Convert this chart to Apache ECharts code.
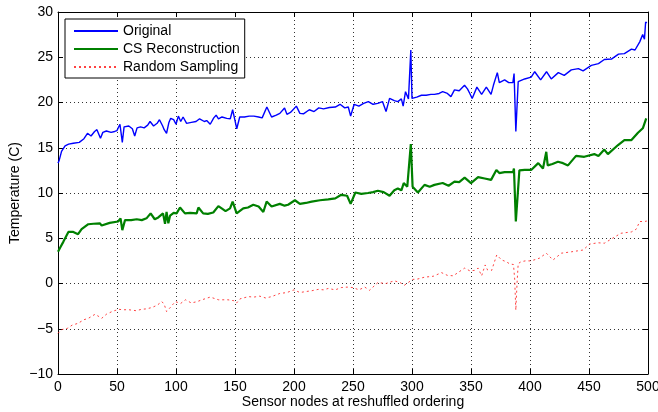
<!DOCTYPE html>
<html>
<head>
<meta charset="utf-8">
<title>Temperature by sensor node</title>
<script src="https://cdn.jsdelivr.net/npm/echarts@6/dist/echarts.min.js"></script>
<style>
  html, body { margin: 0; padding: 0; background: #fff; }
  #chart { width: 658px; height: 412px; }
</style>
</head>
<body>
<div id="chart"></div>
<script>
// values
var origNodes = [0, 1, 3, 6, 9, 13, 18, 22, 25, 28, 31, 33, 36, 38, 41, 45, 48, 50, 52.5, 54.5, 56, 60, 63, 65, 67, 70, 73, 76, 78, 81, 84, 86, 88.7, 90, 92, 94, 95.5, 98, 100, 102, 104, 106, 109, 113, 117, 120, 124, 126, 129, 132, 134, 136, 139, 143, 146, 148, 150, 151.5, 154, 158, 162, 166, 170, 173, 177, 181, 185, 188, 192, 194, 197, 202, 205, 208, 213, 217, 221, 225, 230, 235, 239, 243, 246, 248, 251, 255, 259, 263, 267, 271, 275, 278, 281, 285, 288, 291, 292.5, 294.5, 297, 299, 300, 304, 308, 312, 316, 319, 323, 326, 330, 333, 336, 340, 344.5, 347, 349, 351, 355, 359, 363, 367, 369, 372.3, 374, 378.5, 382, 385.5, 386.5, 388, 390, 395.5, 401, 404, 409, 414, 418, 424, 429, 435, 441, 445, 452, 458, 463, 469, 475, 480, 486, 489, 493, 495.5, 497, 498, 499];
var origTemp = [13.3, 13.6, 14.6, 15.2, 15.4, 15.5, 15.6, 16.0, 16.6, 16.3, 16.8, 17.0, 16.05, 16.7, 16.85, 16.7, 16.8, 16.9, 17.6, 15.6, 17.3, 17.4, 17.1, 16.3, 17.2, 17.3, 17.2, 17.5, 17.9, 17.4, 17.7, 18.1, 17.4, 17.0, 16.6, 17.8, 18.25, 18.1, 17.6, 18.5, 17.9, 18.4, 17.7, 17.8, 17.9, 18.2, 17.9, 18.0, 17.6, 18.3, 18.6, 18.2, 18.4, 18.25, 18.2, 19.2, 18.0, 17.1, 18.4, 18.4, 18.5, 18.5, 18.4, 18.3, 19.5, 18.4, 18.6, 18.8, 19.4, 18.7, 18.9, 19.6, 18.8, 18.75, 19.2, 19.0, 19.4, 19.3, 19.45, 19.5, 19.8, 19.4, 19.5, 18.5, 19.8, 19.6, 19.9, 20.1, 19.8, 19.9, 20.1, 19.0, 20.45, 20.2, 20.1, 20.4, 19.6, 21.2, 20.4, 25.8, 20.45, 20.6, 20.8, 20.8, 20.9, 20.9, 21.0, 21.2, 21.0, 20.65, 21.4, 21.3, 21.9, 21.5, 21.0, 20.45, 21.7, 20.9, 21.7, 20.9, 21.9, 23.3, 22.2, 22.5, 22.2, 22.2, 23.2, 16.8, 22.3, 22.6, 22.8, 23.4, 22.5, 23.4, 22.6, 23.3, 23.0, 23.6, 23.75, 23.5, 24.1, 24.3, 24.75, 24.8, 25.35, 25.4, 25.9, 25.8, 26.7, 27.5, 27.0, 28.9, 28.8];

var csNodes = [0, 2, 4.5, 8.8, 13, 17, 20, 25.7, 30, 35.6, 37, 43.8, 51, 53, 54.5, 56.8, 62, 66.7, 71, 75, 78.5, 82, 85, 89, 90.7, 92, 93.5, 95, 98, 100.5, 103.4, 107.6, 112, 117.5, 119, 123, 127, 131.6, 135.9, 138.7, 142, 145.8, 148, 151.4, 157, 161, 165.5, 170, 174, 176.8, 181, 188, 192, 195, 200.8, 205, 210, 215, 222, 229, 235, 240, 245, 248, 252, 257, 262.7, 267, 271, 276, 281, 285, 288, 291, 293, 296, 299, 300.5, 305, 310.6, 315, 319, 326, 331, 336, 340, 344.6, 350, 356, 361.6, 367, 371.5, 374, 378.5, 385.6, 386.4, 388, 391, 395.5, 401, 407, 411, 413.8, 415, 419, 423.7, 428, 432.2, 439, 446, 454.5, 458, 463, 466, 474.6, 480, 486, 491.5, 495.6, 498.5];
var csTemp = [3.5, 4.0, 4.6, 5.7, 5.7, 5.45, 6.0, 6.55, 6.6, 6.65, 6.4, 6.7, 6.85, 7.2, 5.9, 7.0, 7.0, 7.1, 7.0, 7.2, 7.75, 7.1, 7.3, 7.75, 6.6, 7.9, 6.65, 7.5, 7.8, 7.75, 8.4, 7.75, 7.8, 7.75, 8.4, 7.75, 7.7, 7.85, 8.55, 8.3, 8.0, 8.3, 9.05, 7.75, 8.3, 8.4, 8.7, 8.5, 7.9, 9.05, 8.5, 8.8, 8.6, 8.7, 9.2, 8.8, 8.9, 9.05, 9.2, 9.3, 9.4, 9.8, 9.7, 8.8, 10.05, 9.9, 10.0, 10.1, 10.25, 10.1, 9.7, 10.3, 10.5, 10.3, 11.1, 10.7, 15.4, 10.7, 10.05, 10.9, 10.7, 10.9, 11.1, 10.8, 11.25, 11.2, 11.7, 11.1, 11.75, 11.6, 11.45, 12.55, 12.2, 12.3, 12.3, 12.7, 6.85, 12.5, 12.55, 12.55, 13.3, 12.7, 14.55, 13.05, 13.2, 13.45, 13.3, 13.05, 14.1, 14.0, 14.3, 14.1, 14.8, 14.3, 15.3, 15.85, 15.85, 16.65, 17.15, 18.25];

var rsNodes = [0, 3, 8, 12, 17, 22, 25.7, 31.4, 34, 37, 41, 45.8, 51.4, 55, 60, 66, 71, 75, 79.7, 84, 88, 90, 92, 95.5, 99.4, 104, 108, 113, 118, 122, 129, 136, 144, 149, 151.4, 154.2, 161.4, 166, 171, 176, 181, 188, 194, 200, 205, 209.5, 215, 220.5, 225, 229, 235, 240, 245, 250, 255, 260, 264, 271, 278, 285, 290, 293.5, 300.5, 305, 310.6, 318, 325, 330, 335, 340, 344.6, 349, 353, 356, 359, 362, 364, 367.5, 371.8, 376, 380, 383, 386, 387, 388, 389, 390, 392.4, 396, 401, 408, 413.8, 419.5, 426.6, 435, 440, 445, 450.5, 457.6, 463, 470, 477, 486, 490, 493, 497, 499];
var rsTemp = [-5.5, -5.1, -4.95, -4.6, -4.4, -4.0, -3.85, -3.4, -3.6, -3.85, -3.4, -3.1, -2.85, -2.9, -2.9, -3.0, -2.85, -2.8, -2.65, -2.4, -2.0, -2.3, -3.1, -2.6, -2.0, -2.2, -1.8, -2.15, -2.0, -1.8, -1.5, -1.8, -1.8, -1.9, -2.15, -1.7, -1.45, -1.5, -1.4, -1.6, -1.45, -1.1, -1.0, -0.7, -1.0, -0.9, -0.8, -0.65, -0.7, -0.55, -0.7, -0.45, -0.4, -0.45, -0.7, -0.4, -0.75, 0.1, 0.0, 0.3, 0.1, -0.2, 0.45, 0.5, 0.7, 0.8, 1.2, 0.9, 0.85, 1.3, 1.7, 1.4, 1.45, 1.7, 0.85, 2.05, 1.5, 1.45, 3.15, 2.6, 2.4, 2.15, 2.1, 0.5, -2.95, 0.0, 2.2, 2.4, 2.5, 2.5, 2.8, 3.35, 2.6, 3.35, 3.5, 3.6, 3.7, 4.35, 4.5, 4.45, 5.0, 5.55, 5.7, 6.0, 6.85, 6.85, 6.9];

var seriesNames = ['Original', 'CS Reconstruction', 'Random Sampling'];

function pairs(xs, ys) {
  return xs.map(function (x, i) { return [x, ys[i]]; });
}

var font = 'Liberation Sans, Arial, Helvetica, sans-serif';
var gridLine = { show: true, lineStyle: { color: '#333', width: 1, type: [1, 3] } };
var frameLine = { show: true, onZero: false, lineStyle: { color: '#000', width: 1 } };
var inTick = { show: true, inside: true, length: 5, lineStyle: { color: '#000' } };

var chart = echarts.init(document.getElementById('chart'), null, { renderer: 'canvas' });
chart.setOption({
  animation: false,
  backgroundColor: '#fff',
  textStyle: { fontFamily: font },
  grid: { left: 58, right: 10, top: 12, bottom: 38, outerBoundsMode: 'none', containLabel: false },
  legend: {
    data: seriesNames,
    orient: 'vertical',
    left: 65,
    top: 19,
    padding: [5, 5, 4, 8],
    itemWidth: 44,
    itemHeight: 14,
    itemGap: 4,
    backgroundColor: '#fff',
    borderColor: '#000',
    borderWidth: 1,
    itemStyle: { opacity: 0 },
    textStyle: { fontFamily: font, fontSize: 14, color: '#000' }
  },
  xAxis: [{
    type: 'value',
    min: 0, max: 500, interval: 50,
    name: 'Sensor nodes at reshuffled ordering',
    nameLocation: 'middle',
    nameGap: 21,
    nameMoveOverlap: false,
    nameTextStyle: { fontFamily: font, fontSize: 14, color: '#000' },
    axisLine: frameLine,
    axisTick: inTick,
    axisLabel: { fontFamily: font, fontSize: 14, color: '#000', margin: 6 },
    splitLine: gridLine
  }, {
    type: 'value', position: 'top',
    min: 0, max: 500, interval: 50,
    axisLine: frameLine,
    axisTick: inTick,
    axisLabel: { show: false },
    splitLine: { show: false }
  }],
  yAxis: [{
    type: 'value',
    min: -10, max: 30, interval: 5,
    name: 'Temperature (C)',
    nameLocation: 'middle',
    nameGap: 36,
    nameMoveOverlap: false,
    nameTextStyle: { fontFamily: font, fontSize: 14, color: '#000' },
    axisLine: frameLine,
    axisTick: inTick,
    axisLabel: {
      fontFamily: font, fontSize: 14, color: '#000', margin: 5,
      formatter: function (v) { return String(v).replace('-', '\u2212'); }
    },
    splitLine: gridLine
  }, {
    type: 'value', position: 'right',
    min: -10, max: 30, interval: 5,
    axisLine: frameLine,
    axisTick: inTick,
    axisLabel: { show: false },
    splitLine: { show: false }
  }],
  series: [{
    name: seriesNames[0],
    type: 'line',
    symbol: 'none',
    color: '#0000ff',
    lineStyle: { color: '#0000ff', width: 1.4 },
    data: pairs(origNodes, origTemp)
  }, {
    name: seriesNames[1],
    type: 'line',
    symbol: 'none',
    color: '#008000',
    lineStyle: { color: '#008000', width: 2.2 },
    data: pairs(csNodes, csTemp)
  }, {
    name: seriesNames[2],
    type: 'line',
    symbol: 'none',
    color: '#ff0000',
    lineStyle: { color: '#ff2020', width: 1, type: [2, 3], opacity: 0.85 },
    data: pairs(rsNodes, rsTemp)
  }]
});
</script>
</body>
</html>
